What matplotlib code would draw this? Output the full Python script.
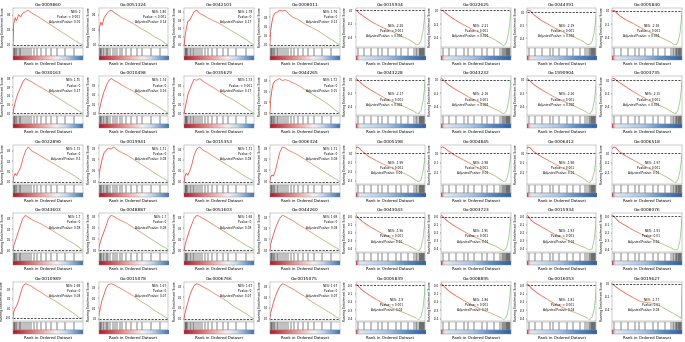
import numpy as np
import matplotlib
matplotlib.use("Agg")
import matplotlib.pyplot as plt
from matplotlib.collections import LineCollection
from matplotlib.colors import LinearSegmentedColormap

# ---------------- data ----------------
titles_row1 = ["Go:0009860", "Go:0051324", "Go:0042101", "Go:0008011",
               "Go:0015934", "Go:0022625", "Go:0044391", "Go:0005840"]
titles_row2 = ["Go:0030163", "Go:0010498", "Go:0035629", "Go:0044265",
               "Go:0043228", "Go:0043232", "Go:1990904", "Go:0003735"]
titles_row3 = ["Go:0022890", "Go:0019941", "Go:0015353", "Go:0006324",
               "Go:0005198", "Go:0004845", "Go:0006412", "Go:0006518"]
titles_row4 = ["Go:0043603", "Go:0048887", "Go:0051603", "Go:0044260",
               "Go:0043043", "Go:0003723", "Go:0015934", "Go:0008076"]
titles_row5 = ["Go:0010989", "Go:0015078", "Go:0006766", "Go:0015075",
               "Go:0005839", "Go:0008895", "Go:0016053", "Go:0019627"]

nes_row1 = ["2", "1.80", "1.78", "1.76", "-2.26", "-2.21", "-2.19", "-2.18"]
nes_row2 = ["1.75", "1.74", "1.73", "1.72", "-2.17", "-2.16", "-2.16", "-2.15"]
nes_row3 = ["1.72", "1.71", "1.71", "1.71", "-1.99", "-1.98", "-1.98", "-1.97"]
nes_row4 = ["1.7", "1.7", "1.68", "1.68", "-1.96", "-1.95", "-1.93", "-1.91"]
nes_row5 = ["1.68", "1.67", "1.67", "1.67", "-1.9", "-1.86", "-1.81", "-1.77"]

pval_row1 = ["< 0.001", "< 0.001", "0", "0", "< 0.001", "< 0.001", "< 0.001", "< 0.001"]
pval_row2 = ["0", "0", "< 0.001", "0", "< 0.001", "< 0.001", "< 0.001", "< 0.001"]
pval_row3 = ["0", "0", "0", "0", "< 0.001", "< 0.001", "< 0.001", "< 0.001"]
pval_row4 = ["0", "0", "0", "0", "< 0.001", "< 0.001", "< 0.001", "0.01"]
pval_row5 = ["0", "0", "0", "0", "< 0.001", "< 0.001", "< 0.001", "0.01"]

padj_row1 = ["0.01", "0.14", "0.17", "0.12", "< 0.001", "< 0.001", "< 0.001", "< 0.001"]
padj_row2 = ["0.17", "0.16", "0.17", "0.15", "< 0.001", "< 0.001", "< 0.001", "< 0.001"]
padj_row3 = ["0.1", "0.08", "0.08", "0.08", "0.01", "0.01", "0.01", "0.01"]
padj_row4 = ["0.08", "0.08", "0.08", "0.08", "0.01", "0.01", "0.01", "0.02"]
padj_row5 = ["0.08", "0.07", "0.07", "0.07", "0.02", "0.03", "0.04", "0.08"]

# rank positions (% of ordered list) of the running-score points
pos_rank = [0, 1, 3, 5, 8, 11, 14, 18, 22, 27, 33, 40, 50, 60, 70, 80, 90, 96, 100]
neg_rank = [0, 2, 5, 10, 20, 30, 40, 50, 60, 70, 78, 84, 88, 91, 94, 97, 99, 100]

es_row1 = [
    [0, .28, .36, .32, .40, .37, .42, .44, .46, .42, .39, .35, .29, .23, .17, .11, .05, .02, 0],
    [0, .22, .30, .26, .36, .40, .44, .46, .43, .40, .36, .33, .28, .22, .17, .11, .06, .02, 0],
    [0, .10, .20, .28, .30, .35, .40, .42, .38, .36, .33, .30, .26, .21, .16, .11, .06, .02, 0],
    [0, .15, .25, .32, .35, .36, .38, .37, .38, .34, .30, .28, .23, .19, .15, .10, .05, .02, 0],
    [0, -.01, -.04, -.08, -.15, -.21, -.26, -.30, -.35, -.40, -.44, -.48, -.51, -.50, -.45, -.30, -.12, 0],
    [0, .0, -.03, -.07, -.14, -.20, -.25, -.30, -.34, -.39, -.43, -.47, -.50, -.50, -.46, -.32, -.14, 0],
    [.02, .03, .02, -.04, -.12, -.18, -.24, -.29, -.34, -.39, -.43, -.47, -.50, -.49, -.44, -.30, -.12, 0],
    [0, .01, -.02, -.07, -.14, -.19, -.25, -.30, -.35, -.40, -.44, -.47, -.50, -.51, -.47, -.34, -.14, 0],
]
es_row2 = [
    [0, .05, .12, .18, .25, .30, .36, .40, .38, .36, .33, .30, .25, .20, .15, .10, .05, .02, 0],
    [0, .04, .10, .17, .24, .30, .35, .38, .36, .34, .31, .28, .24, .19, .14, .10, .05, .02, 0],
    [0, .05, .12, .20, .26, .32, .37, .36, .38, .35, .32, .29, .24, .19, .15, .10, .05, .02, 0],
    [0, .12, .22, .28, .30, .31, .32, .30, .31, .30, .28, .26, .22, .18, .14, .10, .05, .02, 0],
    [.02, .01, -.02, -.07, -.14, -.20, -.26, -.31, -.36, -.40, -.44, -.47, -.50, -.50, -.46, -.32, -.13, 0],
    [.02, .01, -.02, -.07, -.14, -.20, -.26, -.31, -.36, -.40, -.44, -.47, -.50, -.50, -.46, -.32, -.13, 0],
    [.02, .01, -.02, -.07, -.14, -.20, -.26, -.31, -.35, -.40, -.44, -.47, -.50, -.50, -.46, -.32, -.13, 0],
    [.03, .03, .01, -.03, -.10, -.17, -.23, -.29, -.34, -.39, -.43, -.47, -.50, -.50, -.46, -.32, -.13, 0],
]
es_row3 = [
    [0, .05, .08, .06, .10, .14, .22, .30, .34, .30, .28, .25, .21, .17, .13, .09, .05, .02, 0],
    [0, .08, .14, .20, .26, .28, .30, .29, .31, .28, .26, .24, .20, .16, .12, .08, .04, .02, 0],
    [0, .05, .08, .06, .10, .16, .24, .30, .32, .29, .27, .24, .20, .16, .12, .08, .04, .02, 0],
    [0, .04, .06, .05, .10, .18, .26, .31, .30, .28, .26, .24, .20, .16, .12, .08, .04, .02, 0],
    [.05, .07, .06, .02, -.04, -.08, -.12, -.15, -.19, -.22, -.25, -.28, -.30, -.31, -.29, -.20, -.08, 0],
    [.06, .07, .06, .03, -.02, -.06, -.10, -.14, -.18, -.21, -.24, -.27, -.29, -.30, -.28, -.19, -.08, 0],
    [.05, .07, .06, .02, -.03, -.07, -.11, -.15, -.18, -.22, -.25, -.28, -.30, -.30, -.28, -.19, -.08, 0],
    [.05, .07, .06, .02, -.03, -.07, -.11, -.15, -.18, -.22, -.25, -.28, -.30, -.30, -.28, -.19, -.08, 0],
]
es_row4 = [
    [0, .04, .08, .12, .18, .24, .30, .33, .31, .29, .27, .25, .21, .17, .13, .09, .05, .02, 0],
    [0, .04, .08, .12, .17, .22, .28, .31, .30, .28, .26, .24, .20, .16, .12, .08, .04, .02, 0],
    [0, .04, .09, .13, .19, .24, .29, .32, .31, .29, .27, .24, .20, .16, .12, .08, .04, .02, 0],
    [0, .05, .10, .14, .20, .25, .29, .32, .31, .29, .27, .24, .20, .16, .12, .08, .04, .02, 0],
    [.02, .01, -.02, -.06, -.12, -.17, -.22, -.26, -.30, -.34, -.37, -.40, -.42, -.42, -.39, -.27, -.11, 0],
    [.02, .01, -.02, -.06, -.12, -.17, -.22, -.26, -.30, -.34, -.37, -.40, -.42, -.42, -.39, -.27, -.11, 0],
    [.02, .01, -.03, -.07, -.12, -.17, -.22, -.26, -.30, -.34, -.37, -.39, -.41, -.42, -.40, -.28, -.11, 0],
    [.01, .0, -.03, -.07, -.12, -.17, -.21, -.25, -.29, -.33, -.36, -.38, -.40, -.41, -.40, -.30, -.13, 0],
]
es_row5 = [
    [0, .06, .10, .12, .18, .26, .33, .36, .35, .33, .30, .27, .22, .18, .13, .08, .03, -.01, 0],
    [0, .06, .12, .18, .24, .30, .33, .34, .33, .31, .29, .26, .22, .17, .13, .08, .04, .01, 0],
    [0, .05, .10, .15, .22, .27, .31, .33, .32, .30, .28, .25, .21, .17, .12, .08, .04, .01, 0],
    [0, .05, .10, .15, .21, .26, .30, .33, .32, .30, .28, .25, .21, .16, .12, .08, .04, .01, 0],
    [.02, .01, -.02, -.06, -.12, -.17, -.22, -.26, -.30, -.33, -.36, -.38, -.40, -.40, -.38, -.27, -.11, 0],
    [.02, .01, -.02, -.06, -.12, -.17, -.22, -.26, -.30, -.33, -.36, -.38, -.40, -.40, -.38, -.27, -.11, 0],
    [.02, .01, -.02, -.06, -.12, -.17, -.22, -.26, -.30, -.33, -.36, -.38, -.40, -.40, -.38, -.28, -.12, 0],
    [0, -.02, -.05, -.09, -.16, -.22, -.28, -.30, -.31, -.36, -.41, -.45, -.47, -.49, -.51, -.53, -.55, 0],
]

hits_pos = [1, 2, 3, 4, 6, 8, 10, 12, 14, 17, 20, 23, 26, 30, 34, 40, 47, 55, 63, 75, 88]
hits_neg = [3, 12, 22, 33, 38, 47, 58, 66, 76, 84, 87, 89, 91, 92, 93, 94, 95, 96, 97, 98, 99]

all_titles = [titles_row1, titles_row2, titles_row3, titles_row4, titles_row5]
all_nes = [nes_row1, nes_row2, nes_row3, nes_row4, nes_row5]
all_pval = [pval_row1, pval_row2, pval_row3, pval_row4, pval_row5]
all_padj = [padj_row1, padj_row2, padj_row3, padj_row4, padj_row5]
all_es = [es_row1, es_row2, es_row3, es_row4, es_row5]

# ---------------- style ----------------
W, H = 685, 342
fig = plt.figure(figsize=(W / 100, H / 100), dpi=100)
line_cmap = LinearSegmentedColormap.from_list("l", ["#e8473d", "#f08a6a", "#c9b58a", "#8fcf8a"])
bar_pos = LinearSegmentedColormap.from_list(
    "bp", [(0, "#b2182b"), (0.35, "#e7908d"), (0.62, "#f7f0f0"), (0.75, "#c6d9ee"), (1, "#3d73b5")])
bar_neg = LinearSegmentedColormap.from_list(
    "bn", [(0, "#c0282e"), (0.03, "#f0c0c0"), (0.06, "#dde8f4"), (0.45, "#a8c4e4"), (0.7, "#5d8fca"), (1, "#2b5fa8")])

pw, ph = W / 8, H / 5


def ax_at(x0, y0, w, h):
    return fig.add_axes([x0 / W, 1 - (y0 + h) / H, w / W, h / H])


for r in range(5):
    for c in range(8):
        px, py = c * pw, r * ph
        pos = c < 4
        xs = pos_rank if pos else neg_rank
        ys = all_es[r][c]
        ax = ax_at(px + 13, py + 8, pw - 16, 39)
        xx = np.array(xs, float)
        yy = np.array(ys, float)
        pts = np.column_stack([xx, yy]).reshape(-1, 1, 2)
        segs = np.concatenate([pts[:-1], pts[1:]], axis=1)
        lc = LineCollection(segs, colors=line_cmap(xx[:-1] / 100), linewidth=0.6)
        ax.add_collection(lc)
        ax.axhline(0, color="black", ls=(0, (3, 2)), lw=0.5)
        ax.set_xlim(0, 100)
        lo, hi = min(yy.min(), 0), max(yy.max(), 0)
        pad = (hi - lo) * 0.06
        ax.set_ylim(lo - pad, hi + pad)
        ax.set_xticks([])
        step = 0.2 if (hi - lo) > 0.45 else 0.1
        ticks = np.arange(np.ceil(lo / step) * step, hi + 1e-9, step)
        ax.set_yticks(ticks)
        ax.set_yticklabels([f"{t:.1f}" for t in ticks], fontsize=2)
        ax.tick_params(axis="y", length=1, width=0.3, pad=0.5)
        for s in ax.spines.values():
            s.set_linewidth(0.3)
            s.set_color("#888888")
        ax.set_title(all_titles[r][c], fontsize=3.2, pad=1.5)
        ax.set_ylabel("Running Enrichment Score", fontsize=2.2, labelpad=1)
        txt = (f"NES: {all_nes[r][c]}\nPvalue: {all_pval[r][c]}\n"
               f"Adjusted Pvalue: {all_padj[r][c]}")
        if pos:
            ax.text(0.97, 0.95, txt, transform=ax.transAxes, ha="right", va="top",
                    fontsize=2.1, linespacing=1.4)
        else:
            ax.text(0.68, 0.22, txt, transform=ax.transAxes, ha="right", va="bottom",
                    fontsize=2.1, linespacing=1.4)

        hax = ax_at(px + 13, py + 48, pw - 16, 8)
        for h in (hits_pos if pos else hits_neg):
            hax.axvline(h, color="black", lw=0.35)
        hax.set_xlim(0, 100)
        hax.set_xticks([])
        hax.set_yticks([])
        for s in hax.spines.values():
            s.set_linewidth(0.3)
            s.set_color("#888888")

        bax = ax_at(px + 13, py + 56, pw - 16, 4)
        bax.imshow(np.linspace(0, 1, 256)[None, :], aspect="auto",
                   cmap=bar_pos if pos else bar_neg, extent=[0, 100, 0, 1])
        bax.set_xticks([])
        bax.set_yticks([])
        for s in bax.spines.values():
            s.set_linewidth(0.3)
            s.set_color("#888888")
        fig.text((px + 13 + (pw - 16) / 2) / W, 1 - (py + 64) / H,
                 "Rank in Ordered Dataset", ha="center", va="center", fontsize=2.8)

fig.savefig("out.png", dpi=100)
